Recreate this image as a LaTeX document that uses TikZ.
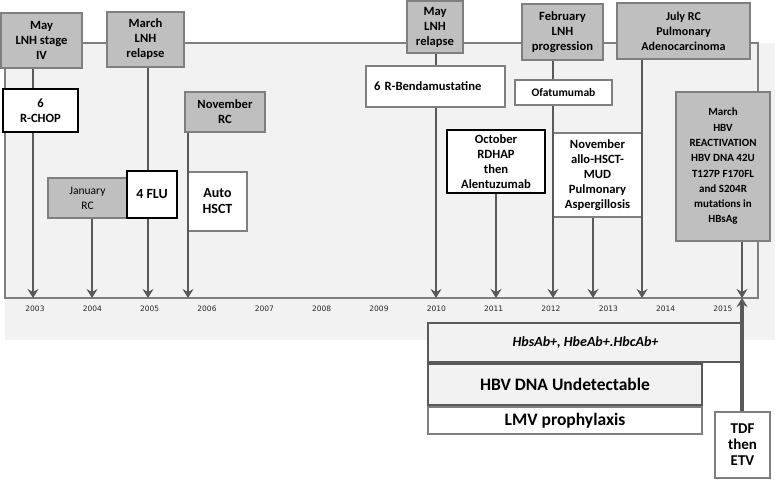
\documentclass[tikz,border=0pt]{standalone}
\usepackage{fontspec}
\setmainfont{Carlito}
\newfontfamily\yearfont{DejaVu Sans}
\usetikzlibrary{arrows.meta,calc,positioning}
\definecolor{boxgray}{HTML}{BFBFBF}
\definecolor{edgegray}{HTML}{7F7F7F}
\definecolor{linegray}{HTML}{595959}
\definecolor{bggray}{HTML}{F2F2F2}

\begin{document}
\begin{tikzpicture}[x=1pt,y=-1pt,>={Stealth[length=9pt,width=11pt,inset=3pt]},
  sz/.style 2 args={minimum width=#1pt,minimum height=#2pt},
  evt/.style={draw=edgegray,fill=boxgray,line width=1.8pt,inner sep=0pt,align=center,font=\bfseries\fontsize{12.6}{15}\selectfont},
  ther/.style={evt,draw=black,fill=white,line width=2.2pt},
  note/.style={evt,fill=white},
  hbox/.style={evt,draw=linegray,fill=bggray,line width=2.6pt},
  link/.style={linegray,line width=2.6pt},
  yearlbl/.style={font=\yearfont\fontsize{7.5}{9}\selectfont,text=black!85}]
  \useasboundingbox (0,0) rectangle (775,480);
  \fill[bggray] (5,43) rectangle (775,340);
  \draw[edgegray,line width=1.3pt] (5,43) rectangle (758,298);
  \foreach \yr in {2003,...,2015}
    \node[yearlbl] (y\yr) at ({35+57.33*(\yr-2003)},309) {\yr};

  \coordinate (t03) at (33,298);
  \coordinate (t04) at (92,298);
  \coordinate (t05) at (148,298);
  \coordinate (t06) at (188,298);
  \coordinate (t10) at (436,298);
  \coordinate (t11) at (496,298);
  \coordinate (t12) at (553,298);
  \coordinate (t12b) at (593,298);
  \coordinate (t13) at (642,298);
  \coordinate (t15) at (742,298);

  \node[evt,sz={81}{55}] (may03) at (41.5,40.5) {May\\LNH stage\\IV};
  \node[evt,sz={77}{55}] (mar05) at (145.5,39.5) {March\\LNH\\relapse};
  \node[ther,sz={75}{43}] (rchop) at (40.5,110.5) {6\\R-CHOP};
  \node[evt,sz={80}{40}] (nov05) at (225,112) {November\\RC};
  \node[evt,sz={79}{40},font=\fontsize{11.5}{15}\selectfont] (jan04) at (87.5,198) {January\\RC};
  \node[ther,sz={50}{47},font=\bfseries\fontsize{14}{16}\selectfont] (flu) at (152,194.5) {4 FLU};
  \node[note,sz={59}{59},font=\bfseries\fontsize{14}{16}\selectfont] (auto) at (217.5,201.5) {Auto\\HSCT};

  \node[evt,sz={56}{52}] (may10) at (435,27) {May\\LNH\\relapse};
  \node[note,sz={139}{41},text width=123pt,align=left] (benda) at (435.5,86.5) {6 R-Bendamustatine};
  \node[evt,sz={81}{56}] (feb12) at (562.5,32) {February\\LNH\\progression};
  \node[note,sz={97}{25},font=\bfseries\fontsize{11.5}{14}\selectfont] (ofa) at (563.5,92.5) {Ofatumumab};
  \node[evt,sz={133}{56},font=\bfseries\fontsize{12}{15}\selectfont] (jul13) at (683.5,31) {July RC\\Pulmonary\\Adenocarcinoma};
  \node[ther,sz={98}{63}] (oct11) at (496,161.5) {October\\RDHAP\\then\\Alentuzumab};
  \node[note,sz={89}{84},line width=1.2pt] (nov12) at (597.5,175) {November\\allo-HSCT-\\MUD\\Pulmonary\\Aspergillosis};
  \node[evt,sz={94}{149},font=\bfseries\fontsize{11}{15.3}\selectfont] (mar15) at (723,166.5) {March\\HBV\\REACTIVATION\\HBV DNA 42U\\T127P F170FL\\and S204R\\mutations in\\HBsAg};

  \node[hbox,sz={315}{39},font=\bfseries\itshape\fontsize{14}{16}\selectfont] (sero) at (585.5,342.5) {HbsAb+, HbeAb+.HbcAb+};
  \node[hbox,sz={274}{41},font=\bfseries\fontsize{17.5}{20}\selectfont] (dna) at (565,384.5) {HBV DNA Undetectable};
  \node[note,sz={274}{27},font=\bfseries\fontsize{17.5}{19}\selectfont] (lmv) at (565,420.5) {LMV prophylaxis};
  \node[note,sz={55}{66},line width=2.2pt,font=\bfseries\fontsize{15}{16}\selectfont] (tdf) at (742.5,445) {TDF\\then\\ETV};

  \draw[link] (may03.south -| t03) -- (rchop.north -| t03);
  \draw[link,->] (rchop.south -| t03) -- (t03);
  \draw[link,->] (jan04.south -| t04) -- (t04);
  \draw[link] (mar05.south -| t05) -- (flu.north -| t05);
  \draw[link,->] (flu.south -| t05) -- (t05);
  \draw[link,->] (nov05.south -| t06) -- (t06);
  \draw[link] (may10.south -| t10) -- (benda.north -| t10);
  \draw[link,->] (benda.south -| t10) -- (t10);
  \draw[link,->] (oct11.south -| t11) -- (t11);
  \draw[link] (feb12.south -| t12) -- (ofa.north -| t12);
  \draw[link,->] (ofa.south -| t12) -- (t12);
  \draw[link,->] (nov12.south -| t12b) -- (t12b);
  \draw[link,->] (jul13.south -| t13) -- (t13);
  \draw[link,->] (mar15.south -| t15) -- (t15);
  \draw[link,->,line width=3.2pt] (tdf.north -| t15) -- (t15);
\end{tikzpicture}
\end{document}
